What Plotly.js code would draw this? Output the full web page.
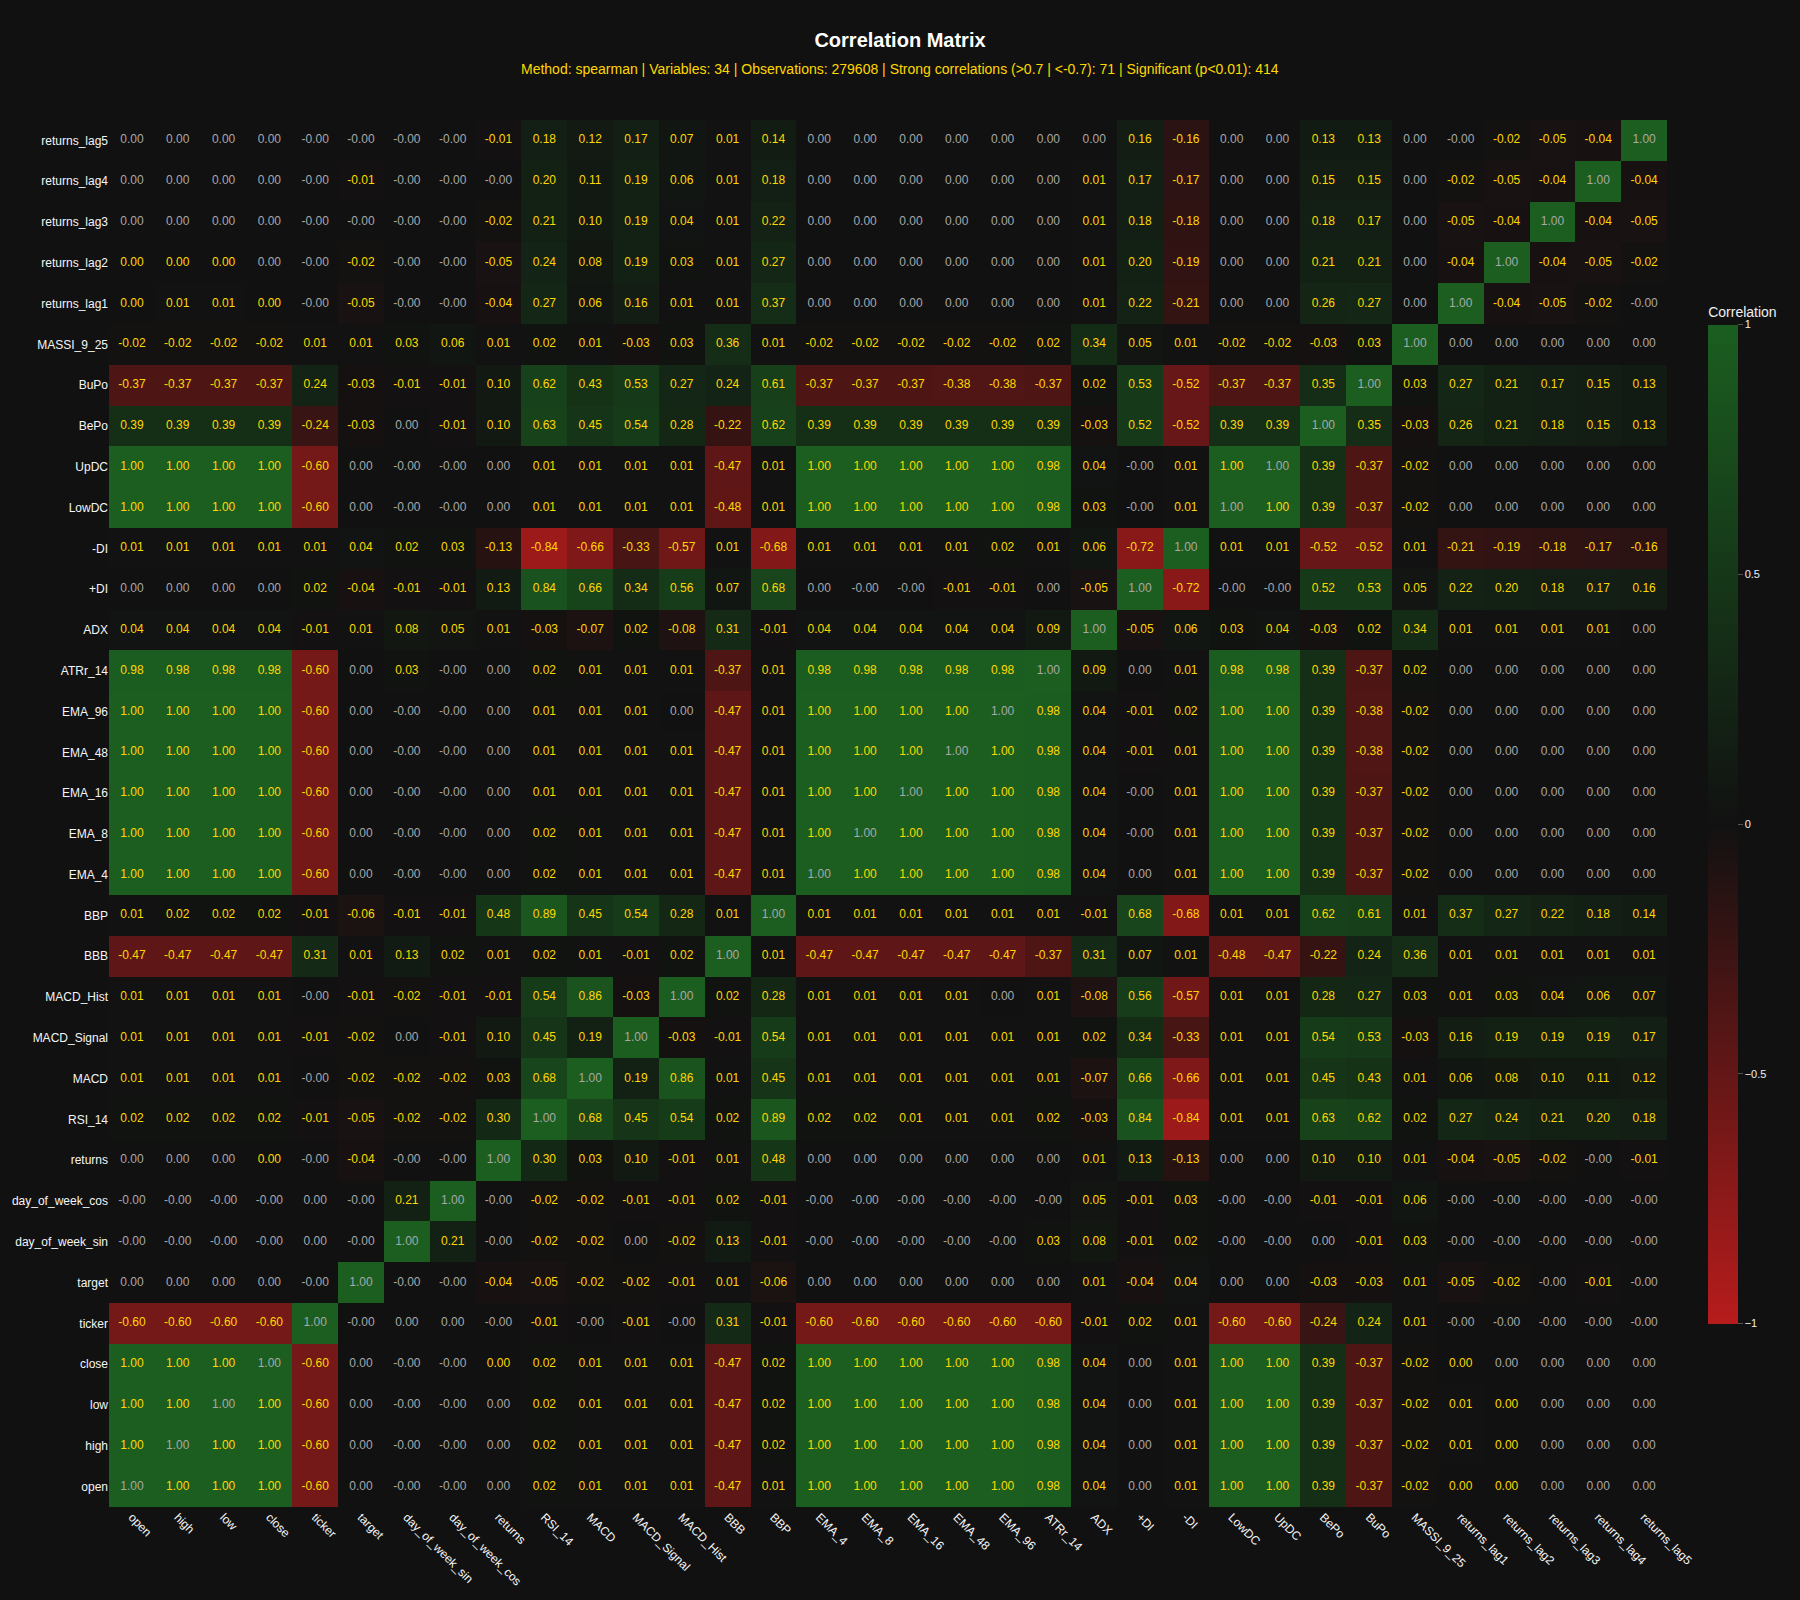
<!DOCTYPE html>
<html><head><meta charset="utf-8">
<script src="https://cdn.plot.ly/plotly-3.0.1.min.js"></script>
<style>html,body{margin:0;padding:0;background:#111111;}</style>
</head><body><div id="chart" style="width:1800px;height:1600px;"></div>
<script>
// Variable labels (x order left->right, y order bottom->top)
const labels = ["open","high","low","close","ticker","target","day_of_week_sin","day_of_week_cos","returns","RSI_14","MACD","MACD_Signal","MACD_Hist","BBB","BBP","EMA_4","EMA_8","EMA_16","EMA_48","EMA_96","ATRr_14","ADX","+DI","-DI","LowDC","UpDC","BePo","BuPo","MASSI_9_25","returns_lag1","returns_lag2","returns_lag3","returns_lag4","returns_lag5"];

// Correlation rows (one per variable, columns in label order). -0 = displayed "-0.00"
const r_open = [1,1,1,1,-0.60,0,-0,-0,0,0.02,0.01,0.01,0.01,-0.47,0.01,1,1,1,1,1,0.98,0.04,0,0.01,1,1,0.39,-0.37,-0.02,0,0,0,0,0];
const r_high = [1,1,1,1,-0.60,0,-0,-0,0,0.02,0.01,0.01,0.01,-0.47,0.02,1,1,1,1,1,0.98,0.04,0,0.01,1,1,0.39,-0.37,-0.02,0.01,0,0,0,0];
const r_low = [1,1,1,1,-0.60,0,-0,-0,0,0.02,0.01,0.01,0.01,-0.47,0.02,1,1,1,1,1,0.98,0.04,0,0.01,1,1,0.39,-0.37,-0.02,0.01,0,0,0,0];
const r_close = [1,1,1,1,-0.60,0,-0,-0,0,0.02,0.01,0.01,0.01,-0.47,0.02,1,1,1,1,1,0.98,0.04,0,0.01,1,1,0.39,-0.37,-0.02,0,0,0,0,0];
const r_ticker = [-0.60,-0.60,-0.60,-0.60,1,-0,0,0,-0,-0.01,-0,-0.01,-0,0.31,-0.01,-0.60,-0.60,-0.60,-0.60,-0.60,-0.60,-0.01,0.02,0.01,-0.60,-0.60,-0.24,0.24,0.01,-0,-0,-0,-0,-0];
const r_target = [0,0,0,0,-0,1,-0,-0,-0.04,-0.05,-0.02,-0.02,-0.01,0.01,-0.06,0,0,0,0,0,0,0.01,-0.04,0.04,0,0,-0.03,-0.03,0.01,-0.05,-0.02,-0,-0.01,-0];
const r_dow_sin = [-0,-0,-0,-0,0,-0,1,0.21,-0,-0.02,-0.02,0,-0.02,0.13,-0.01,-0,-0,-0,-0,-0,0.03,0.08,-0.01,0.02,-0,-0,0,-0.01,0.03,-0,-0,-0,-0,-0];
const r_dow_cos = [-0,-0,-0,-0,0,-0,0.21,1,-0,-0.02,-0.02,-0.01,-0.01,0.02,-0.01,-0,-0,-0,-0,-0,-0,0.05,-0.01,0.03,-0,-0,-0.01,-0.01,0.06,-0,-0,-0,-0,-0];
const r_returns = [0,0,0,0,-0,-0.04,-0,-0,1,0.30,0.03,0.10,-0.01,0.01,0.48,0,0,0,0,0,0,0.01,0.13,-0.13,0,0,0.10,0.10,0.01,-0.04,-0.05,-0.02,-0,-0.01];
const r_rsi = [0.02,0.02,0.02,0.02,-0.01,-0.05,-0.02,-0.02,0.30,1,0.68,0.45,0.54,0.02,0.89,0.02,0.02,0.01,0.01,0.01,0.02,-0.03,0.84,-0.84,0.01,0.01,0.63,0.62,0.02,0.27,0.24,0.21,0.20,0.18];
const r_macd = [0.01,0.01,0.01,0.01,-0,-0.02,-0.02,-0.02,0.03,0.68,1,0.19,0.86,0.01,0.45,0.01,0.01,0.01,0.01,0.01,0.01,-0.07,0.66,-0.66,0.01,0.01,0.45,0.43,0.01,0.06,0.08,0.10,0.11,0.12];
const r_macd_signal = [0.01,0.01,0.01,0.01,-0.01,-0.02,0,-0.01,0.10,0.45,0.19,1,-0.03,-0.01,0.54,0.01,0.01,0.01,0.01,0.01,0.01,0.02,0.34,-0.33,0.01,0.01,0.54,0.53,-0.03,0.16,0.19,0.19,0.19,0.17];
const r_macd_hist = [0.01,0.01,0.01,0.01,-0,-0.01,-0.02,-0.01,-0.01,0.54,0.86,-0.03,1,0.02,0.28,0.01,0.01,0.01,0.01,0,0.01,-0.08,0.56,-0.57,0.01,0.01,0.28,0.27,0.03,0.01,0.03,0.04,0.06,0.07];
const r_bbb = [-0.47,-0.47,-0.47,-0.47,0.31,0.01,0.13,0.02,0.01,0.02,0.01,-0.01,0.02,1,0.01,-0.47,-0.47,-0.47,-0.47,-0.47,-0.37,0.31,0.07,0.01,-0.48,-0.47,-0.22,0.24,0.36,0.01,0.01,0.01,0.01,0.01];
const r_bbp = [0.01,0.02,0.02,0.02,-0.01,-0.06,-0.01,-0.01,0.48,0.89,0.45,0.54,0.28,0.01,1,0.01,0.01,0.01,0.01,0.01,0.01,-0.01,0.68,-0.68,0.01,0.01,0.62,0.61,0.01,0.37,0.27,0.22,0.18,0.14];
const r_ema4 = [1,1,1,1,-0.60,0,-0,-0,0,0.02,0.01,0.01,0.01,-0.47,0.01,1,1,1,1,1,0.98,0.04,0,0.01,1,1,0.39,-0.37,-0.02,0,0,0,0,0];
const r_ema8 = [1,1,1,1,-0.60,0,-0,-0,0,0.02,0.01,0.01,0.01,-0.47,0.01,1,1,1,1,1,0.98,0.04,-0,0.01,1,1,0.39,-0.37,-0.02,0,0,0,0,0];
const r_ema16 = [1,1,1,1,-0.60,0,-0,-0,0,0.01,0.01,0.01,0.01,-0.47,0.01,1,1,1,1,1,0.98,0.04,-0,0.01,1,1,0.39,-0.37,-0.02,0,0,0,0,0];
const r_ema48 = [1,1,1,1,-0.60,0,-0,-0,0,0.01,0.01,0.01,0.01,-0.47,0.01,1,1,1,1,1,0.98,0.04,-0.01,0.01,1,1,0.39,-0.38,-0.02,0,0,0,0,0];
const r_ema96 = [1,1,1,1,-0.60,0,-0,-0,0,0.01,0.01,0.01,0,-0.47,0.01,1,1,1,1,1,0.98,0.04,-0.01,0.02,1,1,0.39,-0.38,-0.02,0,0,0,0,0];
const r_atr = [0.98,0.98,0.98,0.98,-0.60,0,0.03,-0,0,0.02,0.01,0.01,0.01,-0.37,0.01,0.98,0.98,0.98,0.98,0.98,1,0.09,0,0.01,0.98,0.98,0.39,-0.37,0.02,0,0,0,0,0];
const r_adx = [0.04,0.04,0.04,0.04,-0.01,0.01,0.08,0.05,0.01,-0.03,-0.07,0.02,-0.08,0.31,-0.01,0.04,0.04,0.04,0.04,0.04,0.09,1,-0.05,0.06,0.03,0.04,-0.03,0.02,0.34,0.01,0.01,0.01,0.01,0];
const r_pdi = [0,0,0,0,0.02,-0.04,-0.01,-0.01,0.13,0.84,0.66,0.34,0.56,0.07,0.68,0,-0,-0,-0.01,-0.01,0,-0.05,1,-0.72,-0,-0,0.52,0.53,0.05,0.22,0.20,0.18,0.17,0.16];
const r_mdi = [0.01,0.01,0.01,0.01,0.01,0.04,0.02,0.03,-0.13,-0.84,-0.66,-0.33,-0.57,0.01,-0.68,0.01,0.01,0.01,0.01,0.02,0.01,0.06,-0.72,1,0.01,0.01,-0.52,-0.52,0.01,-0.21,-0.19,-0.18,-0.17,-0.16];
const r_lowdc = [1,1,1,1,-0.60,0,-0,-0,0,0.01,0.01,0.01,0.01,-0.48,0.01,1,1,1,1,1,0.98,0.03,-0,0.01,1,1,0.39,-0.37,-0.02,0,0,0,0,0];
const r_updc = [1,1,1,1,-0.60,0,-0,-0,0,0.01,0.01,0.01,0.01,-0.47,0.01,1,1,1,1,1,0.98,0.04,-0,0.01,1,1,0.39,-0.37,-0.02,0,0,0,0,0];
const r_bepo = [0.39,0.39,0.39,0.39,-0.24,-0.03,0,-0.01,0.10,0.63,0.45,0.54,0.28,-0.22,0.62,0.39,0.39,0.39,0.39,0.39,0.39,-0.03,0.52,-0.52,0.39,0.39,1,0.35,-0.03,0.26,0.21,0.18,0.15,0.13];
const r_bupo = [-0.37,-0.37,-0.37,-0.37,0.24,-0.03,-0.01,-0.01,0.10,0.62,0.43,0.53,0.27,0.24,0.61,-0.37,-0.37,-0.37,-0.38,-0.38,-0.37,0.02,0.53,-0.52,-0.37,-0.37,0.35,1,0.03,0.27,0.21,0.17,0.15,0.13];
const r_massi = [-0.02,-0.02,-0.02,-0.02,0.01,0.01,0.03,0.06,0.01,0.02,0.01,-0.03,0.03,0.36,0.01,-0.02,-0.02,-0.02,-0.02,-0.02,0.02,0.34,0.05,0.01,-0.02,-0.02,-0.03,0.03,1,0,0,0,0,0];
const r_lag1 = [0,0.01,0.01,0,-0,-0.05,-0,-0,-0.04,0.27,0.06,0.16,0.01,0.01,0.37,0,0,0,0,0,0,0.01,0.22,-0.21,0,0,0.26,0.27,0,1,-0.04,-0.05,-0.02,-0];
const r_lag2 = [0,0,0,0,-0,-0.02,-0,-0,-0.05,0.24,0.08,0.19,0.03,0.01,0.27,0,0,0,0,0,0,0.01,0.20,-0.19,0,0,0.21,0.21,0,-0.04,1,-0.04,-0.05,-0.02];
const r_lag3 = [0,0,0,0,-0,-0,-0,-0,-0.02,0.21,0.10,0.19,0.04,0.01,0.22,0,0,0,0,0,0,0.01,0.18,-0.18,0,0,0.18,0.17,0,-0.05,-0.04,1,-0.04,-0.05];
const r_lag4 = [0,0,0,0,-0,-0.01,-0,-0,-0,0.20,0.11,0.19,0.06,0.01,0.18,0,0,0,0,0,0,0.01,0.17,-0.17,0,0,0.15,0.15,0,-0.02,-0.05,-0.04,1,-0.04];
const r_lag5 = [0,0,0,0,-0,-0,-0,-0,-0.01,0.18,0.12,0.17,0.07,0.01,0.14,0,0,0,0,0,0,0,0.16,-0.16,0,0,0.13,0.13,0,-0,-0.02,-0.05,-0.04,1];

// Significance flags per row (S = significant p<0.01, . = not), columns in label order
const s_open        = ".SSSS....SSSSSSSSSSSSS.SSSSSSSS...";
const s_high        = "S.SSS....SSSSSSSSSSSSS.SSSSSSSS...";
const s_low         = "SS.SS....SSSSSSSSSSSSS.SSSSSSSS...";
const s_close       = "SSS.S...SSSSSSSSSSSSSS.SSSSSSS....";
const s_ticker      = "SSSS.....S.S.SSSSSSSSSSSSSSSS.....";
const s_target      = "........SSSSSSS......SSS..SSSSS.S.";
const s_dow_sin     = ".......S.SS.SSS.....SSSS...SS.....";
const s_dow_cos     = "......S..SSSSSS......SSS..SSS.....";
const s_returns     = "...S.S...SSSSSS......SSS..SSSSSS.S";
const s_rsi         = "SSSSSSSSS.SSSSSSSSSSSSSSSSSSSSSSSS";
const s_macd        = "SSSS.SSSSS.SSSSSSSSSSSSSSSSSSSSSSS";
const s_macd_signal = "SSSSSS.SSSS.SSSSSSSSSSSSSSSSSSSSSS";
const s_macd_hist   = "SSSS.SSSSSSS.SSSSSS.SSSSSSSSSSSSSS";
const s_bbb         = "SSSSSSSSSSSSS.SSSSSSSSSSSSSSSSSSSS";
const s_bbp         = "SSSSSSSSSSSSSS.SSSSSSSSSSSSSSSSSSS";
const s_ema4        = "SSSSS....SSSSSS.SSSSSS.SSSSSS.....";
const s_ema8        = "SSSSS....SSSSSSS.SSSSS.SSSSSS.....";
const s_ema16       = "SSSSS....SSSSSSSS.SSSS.SSSSSS.....";
const s_ema48       = "SSSSS....SSSSSSSSS.SSSSSSSSSS.....";
const s_ema96       = "SSSSS....SSS.SSSSSS.SSSSSSSSS.....";
const s_atr         = "SSSSS.S..SSSSSSSSSSS.S.SSSSSS.....";
const s_adx         = "SSSSSSSSSSSSSSSSSSSSS.SSSSSSSSSSS.";
const s_pdi         = "....SSSSSSSSSSS...SS.S.S..SSSSSSSS";
const s_mdi         = "SSSSSSSSSSSSSSSSSSSSSSS.SSSSSSSSSS";
const s_lowdc       = "SSSSS....SSSSSSSSSSSSS.S.SSSS.....";
const s_updc        = "SSSSS....SSSSSSSSSSSSS.SS.SSS.....";
const s_bepo        = "SSSSSS.SSSSSSSSSSSSSSSSSSS.SSSSSSS";
const s_bupo        = "SSSSSSSSSSSSSSSSSSSSSSSSSSS.SSSSSS";
const s_massi       = "SSSSSSSSSSSSSSSSSSSSSSSSSSSS......";
const s_lag1        = "SSSS.S..SSSSSSS......SSS..SS..SSS.";
const s_lag2        = "SSS..S..SSSSSSS......SSS..SS.S.SSS";
const s_lag3        = "........SSSSSSS......SSS..SS.SS.SS";
const s_lag4        = ".....S...SSSSSS......SSS..SS.SSS.S";
const s_lag5        = "........SSSSSSS.......SS..SS..SSS.";

const subtitleText = "Method: spearman | Variables: 34 | Observations: 279608 | Strong correlations (>0.7 | <-0.7): 71 | Significant (p<0.01): 414";

// Assemble (bottom -> top, same order as labels)
const rows = [r_open,r_high,r_low,r_close,r_ticker,r_target,r_dow_sin,r_dow_cos,r_returns,r_rsi,r_macd,r_macd_signal,r_macd_hist,r_bbb,r_bbp,r_ema4,r_ema8,r_ema16,r_ema48,r_ema96,r_atr,r_adx,r_pdi,r_mdi,r_lowdc,r_updc,r_bepo,r_bupo,r_massi,r_lag1,r_lag2,r_lag3,r_lag4,r_lag5];
const sigs = [s_open,s_high,s_low,s_close,s_ticker,s_target,s_dow_sin,s_dow_cos,s_returns,s_rsi,s_macd,s_macd_signal,s_macd_hist,s_bbb,s_bbp,s_ema4,s_ema8,s_ema16,s_ema48,s_ema96,s_atr,s_adx,s_pdi,s_mdi,s_lowdc,s_updc,s_bepo,s_bupo,s_massi,s_lag1,s_lag2,s_lag3,s_lag4,s_lag5];

function fmt(v){ return Object.is(v,-0) ? "-0.00" : v.toFixed(2); }

const GOLD = "#FFD700", GRAY = "#a8a8a8", BG = "#111111";
const tx = [], ty = [], tt = [], tc = [];
rows.forEach((row,i)=>{
  row.forEach((v,j)=>{
    tx.push(labels[j]); ty.push(labels[i]); tt.push(fmt(v));
    tc.push(sigs[i][j] === "S" ? GOLD : GRAY);
  });
});

const FONT = "Arial, 'Liberation Sans', sans-serif";

const heat = {
  type: "heatmap",
  x: labels, y: labels, z: rows,
  zmin: -1, zmax: 1,
  colorscale: [[0,"#b71c1c"],[0.5,BG],[1,"#1b5e20"]],
  hoverinfo: "skip",
  colorbar: {
    title: {text: "Correlation", side: "top", font: {size: 14, color: "#f0f0f0", family: FONT}},
    tickvals: [-1,-0.5,0,0.5,1],
    ticks: "outside", ticklen: 5, tickcolor: "#555555",
    tickfont: {size: 11, color: "#f0f0f0", family: FONT},
    len: 0.75, thickness: 30, outlinewidth: 0
  }
};
const txt = {
  type: "scatter", mode: "text",
  x: tx, y: ty, text: tt,
  textfont: {size: 12, color: tc, family: FONT},
  hoverinfo: "skip", showlegend: false, cliponaxis: false
};

const layout = {
  width: 1800, height: 1600,
  paper_bgcolor: BG, plot_bgcolor: BG,
  margin: {l: 109, r: 133, t: 120, b: 93},
  font: {family: FONT, color: "#f0f0f0"},
  title: {text: "<b>Correlation Matrix</b>", x: 0.5, xanchor: "center", xref: "container",
          y: 1 - 40/1600, yanchor: "middle", yref: "container",
          font: {size: 20, color: "#ffffff", family: FONT}},
  annotations: [{
    text: subtitleText, showarrow: false,
    xref: "paper", yref: "paper", x: (900-109)/1558, y: 1 + (120-69)/1387,
    xanchor: "center", yanchor: "middle",
    font: {size: 14, color: GOLD, family: FONT}
  }],
  xaxis: {type: "category", categoryorder: "array", categoryarray: labels,
          range: [-0.5, labels.length - 0.5], autorange: false,
          tickangle: 45, showgrid: false, zeroline: false, showline: false, ticks: "",
          tickfont: {size: 12, color: "#f5f5f5", family: FONT}, automargin: false},
  yaxis: {type: "category", categoryorder: "array", categoryarray: labels,
          range: [-0.5, labels.length - 0.5], autorange: false,
          showgrid: false, zeroline: false, showline: false, ticks: "",
          tickfont: {size: 12, color: "#f5f5f5", family: FONT}, automargin: false},
  showlegend: false
};

Plotly.newPlot("chart", [heat, txt], layout, {displayModeBar: false, staticPlot: true});
</script>
</body></html>
